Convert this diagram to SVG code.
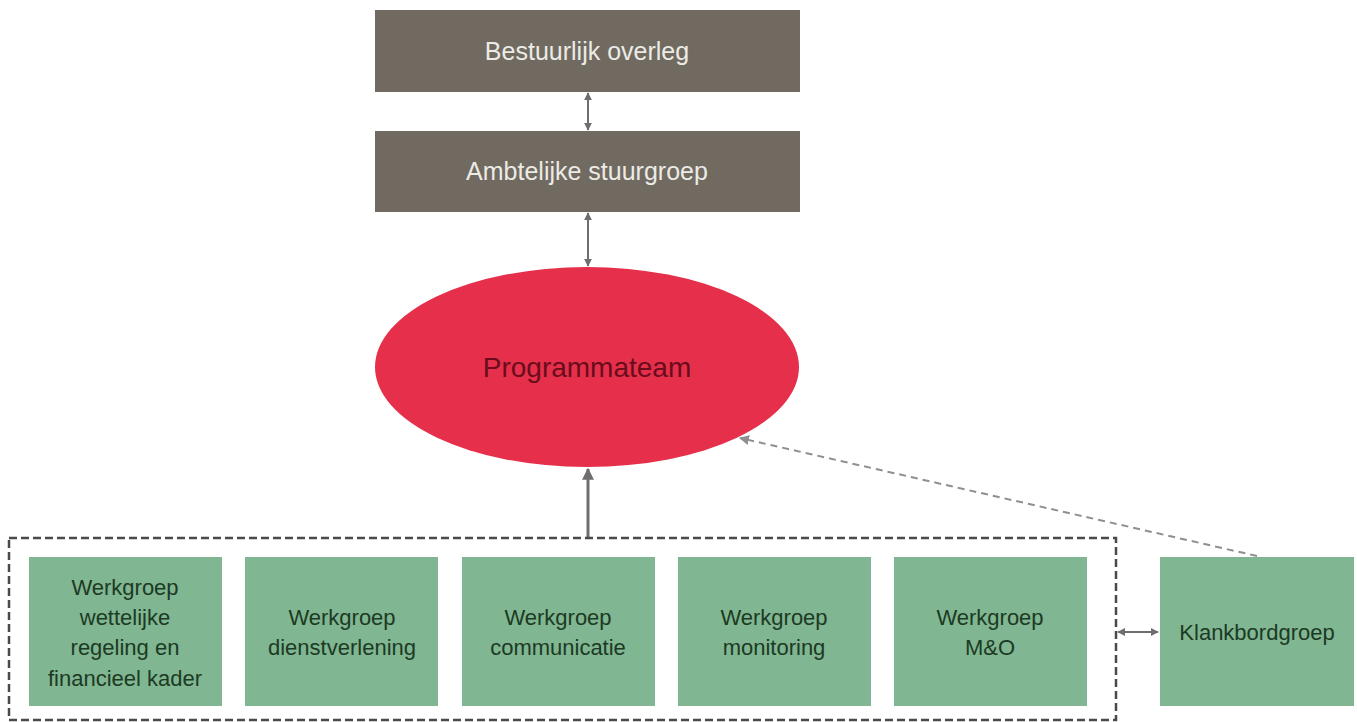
<svg xmlns="http://www.w3.org/2000/svg" width="1357" height="722" viewBox="0 0 1357 722">
<style>
.gbox{fill:#706a60}
.gtxt{font-family:"Liberation Sans",Arial,sans-serif;font-size:25px;fill:#ecebe6;text-anchor:middle}
.wbox{fill:#80b691}
.wtxt{font-family:"Liberation Sans",Arial,sans-serif;font-size:22px;fill:#1c3a24;text-anchor:middle}
.ptxt{font-family:"Liberation Sans",Arial,sans-serif;font-size:28px;fill:#6a0c1c;text-anchor:middle}
.conn{stroke:#6e6e6e;fill:none}
</style>
<defs>
<marker id="ah" viewBox="0 0 10 10" refX="9" refY="5" markerWidth="4" markerHeight="4" orient="auto-start-reverse">
<path d="M0,0 L10,5 L0,10 z" fill="#6e6e6e"/>
</marker>
<marker id="ahl" viewBox="0 0 10 10" refX="9" refY="5" markerWidth="5" markerHeight="5" orient="auto-start-reverse">
<path d="M0,0 L10,5 L0,10 z" fill="#8f8f8f"/>
</marker>
</defs>
<rect width="1357" height="722" fill="#ffffff"/>
<g id="connectors">
<line class="conn" x1="588" y1="93" x2="588" y2="130" stroke-width="2" marker-start="url(#ah)" marker-end="url(#ah)"/>
<line class="conn" x1="588" y1="213" x2="588" y2="266" stroke-width="2" marker-start="url(#ah)" marker-end="url(#ah)"/>
<line class="conn" x1="588" y1="538" x2="588" y2="469" stroke-width="3" marker-end="url(#ah)"/>
<line x1="1257" y1="556" x2="740" y2="438" stroke="#8f8f8f" stroke-width="2" stroke-dasharray="7 5" fill="none" marker-end="url(#ahl)"/>
<line class="conn" x1="1118" y1="632" x2="1158" y2="632" stroke-width="2" marker-start="url(#ah)" marker-end="url(#ah)"/>
</g>
<g id="werkgroepen-frame">
<rect x="9" y="538" width="1107" height="182" fill="none" stroke="#4a4a4a" stroke-width="2.5" stroke-dasharray="8 4"/>
</g>
<g id="bestuurlijk-overleg">
<rect class="gbox" x="375" y="10" width="425" height="82"/>
<text class="gtxt" x="587" y="60">Bestuurlijk overleg</text>
</g>
<g id="ambtelijke-stuurgroep">
<rect class="gbox" x="375" y="131" width="425" height="81"/>
<text class="gtxt" x="587" y="180">Ambtelijke stuurgroep</text>
</g>
<g id="programmateam">
<ellipse cx="587" cy="367" rx="212" ry="100" fill="#e6304b"/>
<text class="ptxt" x="587" y="377">Programmateam</text>
</g>
<g id="wg-wettelijke">
<rect class="wbox" x="29" y="557" width="193" height="149"/>
<text class="wtxt" x="125" y="595">Werkgroep</text>
<text class="wtxt" x="125" y="625">wettelijke</text>
<text class="wtxt" x="125" y="655">regeling en</text>
<text class="wtxt" x="125" y="686">financieel kader</text>
</g>
<g id="wg-dienstverlening">
<rect class="wbox" x="245" y="557" width="193" height="149"/>
<text class="wtxt" x="342" y="625">Werkgroep</text>
<text class="wtxt" x="342" y="655">dienstverlening</text>
</g>
<g id="wg-communicatie">
<rect class="wbox" x="462" y="557" width="193" height="149"/>
<text class="wtxt" x="558" y="625">Werkgroep</text>
<text class="wtxt" x="558" y="655">communicatie</text>
</g>
<g id="wg-monitoring">
<rect class="wbox" x="678" y="557" width="193" height="149"/>
<text class="wtxt" x="774" y="625">Werkgroep</text>
<text class="wtxt" x="774" y="655">monitoring</text>
</g>
<g id="wg-mo">
<rect class="wbox" x="894" y="557" width="193" height="149"/>
<text class="wtxt" x="990" y="625">Werkgroep</text>
<text class="wtxt" x="990" y="655">M&amp;O</text>
</g>
<g id="klankbordgroep">
<rect class="wbox" x="1160" y="557" width="194" height="149"/>
<text class="wtxt" x="1257" y="640">Klankbordgroep</text>
</g>
</svg>
